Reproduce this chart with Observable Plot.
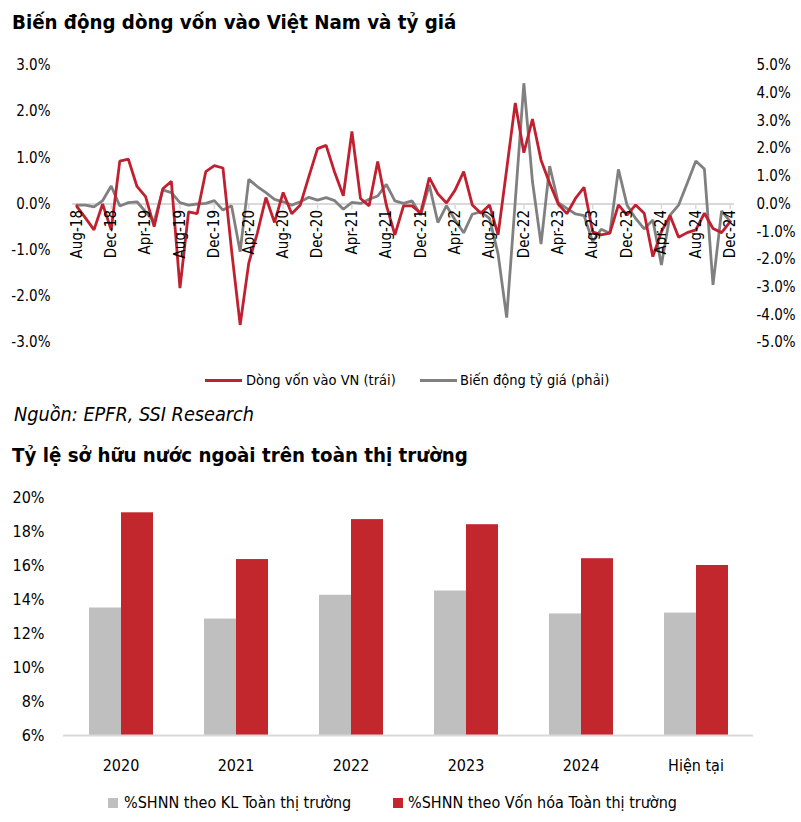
<!DOCTYPE html>
<html>
<head>
<meta charset="utf-8">
<script src="https://cdn.jsdelivr.net/npm/d3@7"></script>
<script src="https://cdn.jsdelivr.net/npm/@observablehq/plot@0.6"></script>
<style>
  html, body { margin: 0; padding: 0; background: #fff; }
  body { width: 801px; height: 822px; position: relative; overflow: hidden;
         font-family: 'DejaVu Sans Condensed', 'DejaVu Sans', sans-serif; color: #000; }
  .abs { position: absolute; white-space: nowrap; line-height: 1; }
  .title { font-weight: bold; font-size: 20.3px; }
  .swline { position: absolute; height: 3px; }
  .swsq { position: absolute; width: 10px; height: 10px; }
</style>
</head>
<body>
<div class="abs title" style="left:12px; top:12px;">Biến động dòng vốn vào Việt Nam và tỷ giá</div>
<div id="topChart" class="abs" style="left:0; top:40px;"></div>

<div class="swline" style="left:205px; top:379px; width:37px; background:#C0202F;"></div>
<div class="abs" style="left:246px; top:373px; font-size:14.5px;">Dòng vốn vào VN (trái)</div>
<div class="swline" style="left:420px; top:379px; width:37px; background:#808080;"></div>
<div class="abs" style="left:460px; top:373px; font-size:14.5px;">Biến động tỷ giá (phải)</div>

<div class="abs" style="left:14px; top:405px; font-size:19.7px; font-style:italic;">Nguồn: EPFR, SSI Research</div>
<div class="abs title" style="left:12px; top:445px;">Tỷ lệ sở hữu nước ngoài trên toàn thị trường</div>
<div id="bottomChart" class="abs" style="left:0; top:480px;"></div>

<div class="swsq" style="left:108px; top:798px; background:#BFBFBF;"></div>
<div class="abs" style="left:124px; top:795px; font-size:16px;">%SHNN theo KL Toàn thị trường</div>
<div class="swsq" style="left:393px; top:798px; background:#C1272D;"></div>
<div class="abs" style="left:408px; top:795px; font-size:16px;">%SHNN theo Vốn hóa Toàn thị trường</div>

<script>
// ---------- Top chart data ----------
const startMonth = new Date(Date.UTC(2018, 7, 1)); // Aug-18
const monthCount = 77; // Aug-18 .. Dec-24
const months = d3.utcMonths(startMonth, d3.utcMonth.offset(startMonth, monthCount)).map(d3.utcFormat("%b-%y"));

// Dòng vốn vào VN (trái), % per month
const flowVN = [
  -0.05, -0.30, -0.56, 0.00, -0.56, 0.93, 0.97, 0.38, 0.16, -0.49,
  0.33, 0.49, -1.82, -0.17, -0.21, 0.70, 0.83, 0.78, -1.00, -2.62,
  -1.28, -0.63, 0.14, -0.40, 0.25, -0.21, -0.02, 0.60, 1.20, 1.27,
  0.68, 0.18, 1.57, 0.12, -0.04, 0.92, -0.02, -0.67, -0.04, -0.04,
  -0.20, 0.57, 0.22, 0.02, 0.30, 0.70, -0.02, -0.20, -0.02, -0.67,
  0.75, 2.19, 1.11, 1.84, 0.95, 0.45, 0.00, -0.21, 0.12, 0.36,
  -0.60, -0.67, -0.63, -0.02, -0.24, -0.02, -0.20, -1.14, -0.60, -0.25,
  -0.72, -0.62, -0.56, -0.20, -0.53, -0.62, -0.38
];
// Biến động tỷ giá (phải), %
const fxChange = [
  -0.04, -0.04, -0.10, 0.12, 0.65, -0.07, 0.05, 0.08, -0.28, -0.64,
  0.51, 0.41, 0.05, -0.04, 0.00, 0.02, 0.12, -0.22, -0.06, -1.72,
  0.89, 0.63, 0.41, 0.17, 0.08, -0.04, 0.08, 0.24, 0.14, 0.23,
  0.12, -0.19, 0.06, 0.02, 0.17, 0.29, 0.71, 0.11, 0.02, 0.11,
  -0.40, 0.69, -0.67, -0.06, -0.58, -1.04, -0.37, -0.28, -0.52, -1.80,
  -4.10, 0.10, 4.36, 0.81, -1.45, 1.37, 0.05, -0.16, -0.36, -0.42,
  -1.36, -0.91, -1.06, 1.25, -0.04, -0.52, -0.90, -0.58, -2.20, -0.40,
  -0.04, 0.75, 1.55, 1.26, -2.92, -0.25, -0.64
];
const leftTicks = [-3, -2, -1, 0, 1, 2, 3];
const rightTicks = [-5, -4, -3, -2, -1, 0, 1, 2, 3, 4, 5];
const leftMax = 3, rightMax = 5;
const toLeft = v => v * leftMax / rightMax;

const RED = "#C0202F", GRAY_LINE = "#808080", ZERO = "#D9D9D9";
const FONT = "'DejaVu Sans Condensed', 'DejaVu Sans', sans-serif";
const AXIS_FS = 15;

const flowData = months.map((m, i) => ({m, v: flowVN[i]}));
const fxData = months.map((m, i) => ({m, v: toLeft(fxChange[i])}));
const labelMonths = months.filter((m, i) => i % 4 === 0);

const topPlot = Plot.plot({
  width: 801, height: 320,
  marginTop: 25, marginBottom: 18, marginLeft: 72, marginRight: 67,
  style: {fontFamily: FONT, fontSize: AXIS_FS + "px", background: "transparent", overflow: "visible"},
  x: {type: "point", domain: months, axis: null},
  y: {domain: [-leftMax, leftMax], axis: null},
  marks: [
    Plot.axisY(leftTicks, {anchor: "left", label: null, tickSize: 0, tickPadding: 22, tickFormat: d => d.toFixed(1) + "%", fontSize: AXIS_FS, fill: "#000"}),
    Plot.axisY(rightTicks.map(toLeft), {anchor: "right", label: null, tickSize: 0, tickPadding: 22, tickFormat: d => (d * rightMax / leftMax).toFixed(1) + "%", fontSize: AXIS_FS, fill: "#000"}),
    Plot.ruleY([0], {stroke: ZERO, strokeWidth: 2}),
    Plot.ruleX(labelMonths, {x: d => d, y1: 0, y2: -0.12, stroke: ZERO, strokeWidth: 1.5}),
    Plot.line(fxData, {x: "m", y: "v", stroke: GRAY_LINE, strokeWidth: 2.8, strokeLinejoin: "miter"}),
    Plot.line(flowData, {x: "m", y: "v", stroke: RED, strokeWidth: 2.8, strokeLinejoin: "miter"}),
    Plot.text(labelMonths, {x: d => d, y: 0, text: d => d, rotate: -90, textAnchor: "end", dy: 6, fontSize: AXIS_FS, fill: "#000"})
  ]
});
document.getElementById("topChart").appendChild(topPlot);

// ---------- Bottom chart data ----------
const years = ["2020", "2021", "2022", "2023", "2024", "Hiện tại"];
const seriesNames = ["%SHNN theo KL Toàn thị trường", "%SHNN theo Vốn hóa Toàn thị trường"];
const ownByVolume = [13.5, 12.85, 14.25, 14.5, 13.15, 13.2];
const ownByCap = [19.1, 16.35, 18.7, 18.4, 16.4, 16.0];
const yTicks = [6, 8, 10, 12, 14, 16, 18, 20];

const barData = years.flatMap((y, i) => [
  {year: y, s: seriesNames[0], v: ownByVolume[i]},
  {year: y, s: seriesNames[1], v: ownByCap[i]}
]);

const bottomPlot = Plot.plot({
  width: 801, height: 300,
  marginTop: 17, marginBottom: 45, marginLeft: 61, marginRight: 47,
  style: {fontFamily: FONT, fontSize: "16px", background: "transparent", overflow: "visible"},
  fx: {domain: years, padding: 0, label: null, axis: "bottom", tickSize: 0, tickPadding: 24},
  x: {domain: seriesNames, paddingInner: 0, paddingOuter: 0.75, axis: null},
  y: {domain: [6, 20], axis: null},
  color: {domain: seriesNames, range: ["#BFBFBF", "#C1272D"]},
  marks: [
    Plot.axisY(yTicks, {anchor: "left", label: null, tickSize: 0, tickPadding: 19, tickFormat: d => d + "%", fontSize: 16, fill: "#000"}),
    Plot.barY(barData, {fx: "year", x: "s", y1: 6, y2: "v", fill: "s"}),
    Plot.ruleY([6], {stroke: ZERO, strokeWidth: 2})
  ]
});
document.getElementById("bottomChart").appendChild(bottomPlot);
</script>
</body>
</html>
